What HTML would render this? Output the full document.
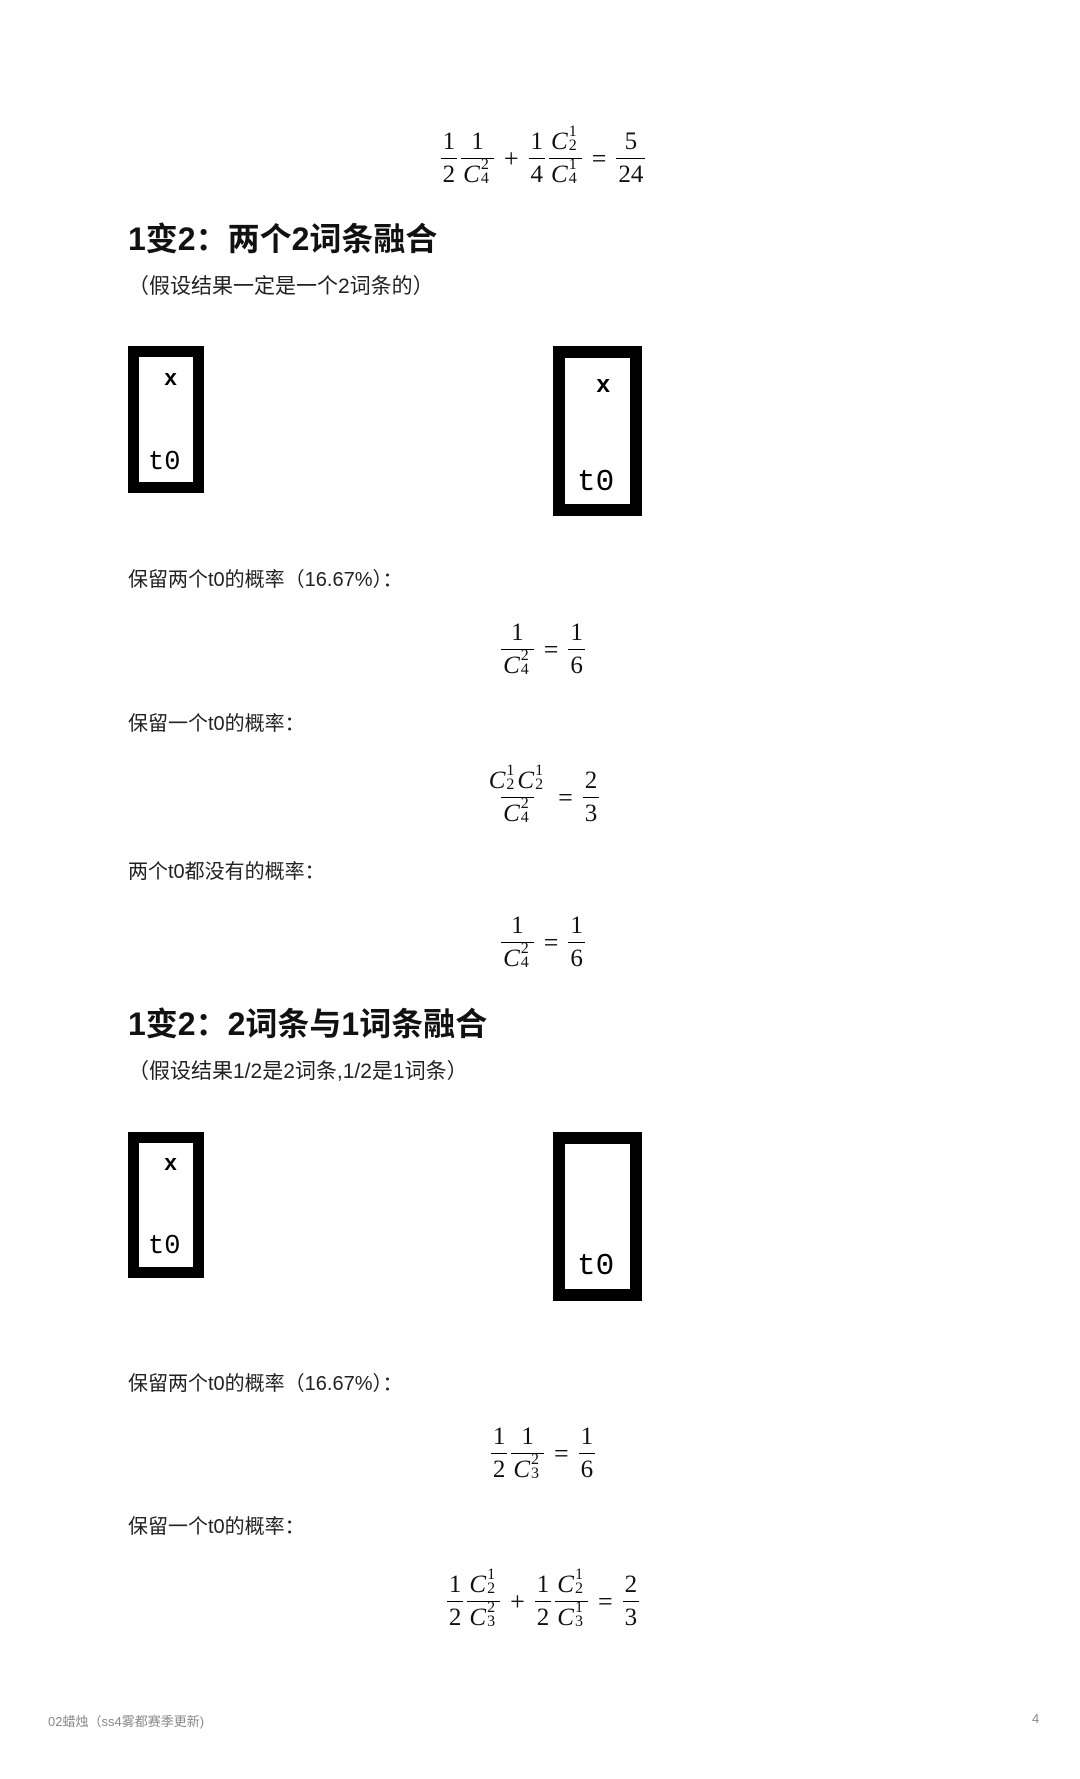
<!DOCTYPE html>
<html><head><meta charset="utf-8">
<style>
html,body{margin:0;padding:0;background:#fff;}
body{width:1080px;height:1779px;position:relative;overflow:hidden;font-family:"Liberation Sans","Noto Sans CJK SC",sans-serif;color:#111;}
.abs{position:absolute;}
.eq{position:absolute;left:0;width:1086px;text-align:center;font-family:"Liberation Serif",serif;font-size:25px;line-height:1;}
.f{display:inline-flex;flex-direction:column;align-items:center;vertical-align:middle;margin:0 2px;}
.f>span{display:block;padding:0 2px;line-height:32px;height:32px;white-space:nowrap;}
.f>span+span{border-top:1.3px solid #000;}
.op{display:inline-block;vertical-align:middle;margin:0 8px;font-size:26px;}
.C{font-style:italic;}
.ss{display:inline-block;position:relative;width:11px;height:10px;font-size:16px;font-style:normal;margin-left:1px;}
.ss>span{position:absolute;left:0;line-height:16px;}
.ss>span:first-child{top:-15px;}
.ss>span:last-child{top:-1px;}
h2{position:absolute;left:128px;margin:0;font-size:32px;font-weight:bold;line-height:1;}
.sub{position:absolute;left:128px;font-size:21px;line-height:1;color:#222;}
.t{position:absolute;left:128px;font-size:20px;line-height:1;color:#222;}
.box{position:absolute;border:11px solid #000;box-sizing:border-box;background:#fff;}
.lbl{position:absolute;font-family:"Liberation Mono",monospace;color:#000;}
</style></head><body>

<div class="eq" style="top:126px;">
<span class="f"><span>1</span><span>2</span></span><span class="f"><span>1</span><span><span class="C">C</span><span class="ss"><span>2</span><span>4</span></span></span></span><span class="op">+</span><span class="f"><span>1</span><span>4</span></span><span class="f"><span><span class="C">C</span><span class="ss"><span>1</span><span>2</span></span></span><span><span class="C">C</span><span class="ss"><span>1</span><span>4</span></span></span></span><span class="op">=</span><span class="f"><span>5</span><span>24</span></span>
</div>

<h2 style="top:223px;">1变2：两个2词条融合</h2>
<div class="sub" style="top:276px;">（假设结果一定是一个2词条的）</div>

<div class="box" style="left:128px;top:346px;width:76px;height:147px;"></div>
<div class="lbl" style="left:164px;top:367px;font-size:22px;font-weight:bold;">x</div>
<div class="lbl" style="left:148px;top:448px;font-size:27px;">t0</div>

<div class="box" style="left:553px;top:346px;width:89px;height:170px;border-width:12px;"></div>
<div class="lbl" style="left:596px;top:373px;font-size:24px;font-weight:bold;">x</div>
<div class="lbl" style="left:577px;top:465px;font-size:31px;">t0</div>

<div class="t" style="top:570px;">保留两个t0的概率（16.67%）：</div>
<div class="eq" style="top:617px;"><span class="f"><span>1</span><span><span class="C">C</span><span class="ss"><span>2</span><span>4</span></span></span></span><span class="op">=</span><span class="f"><span>1</span><span>6</span></span></div>

<div class="t" style="top:714px;">保留一个t0的概率：</div>
<div class="eq" style="top:765px;"><span class="f"><span><span class="C">C</span><span class="ss"><span>1</span><span>2</span></span><span class="C">C</span><span class="ss"><span>1</span><span>2</span></span></span><span><span class="C">C</span><span class="ss"><span>2</span><span>4</span></span></span></span><span class="op">=</span><span class="f"><span>2</span><span>3</span></span></div>

<div class="t" style="top:862px;">两个t0都没有的概率：</div>
<div class="eq" style="top:910px;"><span class="f"><span>1</span><span><span class="C">C</span><span class="ss"><span>2</span><span>4</span></span></span></span><span class="op">=</span><span class="f"><span>1</span><span>6</span></span></div>

<h2 style="top:1008px;">1变2：2词条与1词条融合</h2>
<div class="sub" style="top:1061px;">（假设结果1/2是2词条,1/2是1词条）</div>

<div class="box" style="left:128px;top:1132px;width:76px;height:146px;"></div>
<div class="lbl" style="left:164px;top:1152px;font-size:22px;font-weight:bold;">x</div>
<div class="lbl" style="left:148px;top:1232px;font-size:27px;">t0</div>

<div class="box" style="left:553px;top:1132px;width:89px;height:169px;border-width:12px;"></div>
<div class="lbl" style="left:577px;top:1249px;font-size:31px;">t0</div>

<div class="t" style="top:1374px;">保留两个t0的概率（16.67%）：</div>
<div class="eq" style="top:1421px;"><span class="f"><span>1</span><span>2</span></span><span class="f"><span>1</span><span><span class="C">C</span><span class="ss"><span>2</span><span>3</span></span></span></span><span class="op">=</span><span class="f"><span>1</span><span>6</span></span></div>

<div class="t" style="top:1517px;">保留一个t0的概率：</div>
<div class="eq" style="top:1569px;"><span class="f"><span>1</span><span>2</span></span><span class="f"><span><span class="C">C</span><span class="ss"><span>1</span><span>2</span></span></span><span><span class="C">C</span><span class="ss"><span>2</span><span>3</span></span></span></span><span class="op">+</span><span class="f"><span>1</span><span>2</span></span><span class="f"><span><span class="C">C</span><span class="ss"><span>1</span><span>2</span></span></span><span><span class="C">C</span><span class="ss"><span>1</span><span>3</span></span></span></span><span class="op">=</span><span class="f"><span>2</span><span>3</span></span></div>

<div class="abs" style="left:48px;top:1711px;font-size:13px;color:#888;">02蜡烛（ss4雾都赛季更新)</div>
<div class="abs" style="left:1032px;top:1711px;font-size:13px;color:#888;">4</div>
</body></html>
